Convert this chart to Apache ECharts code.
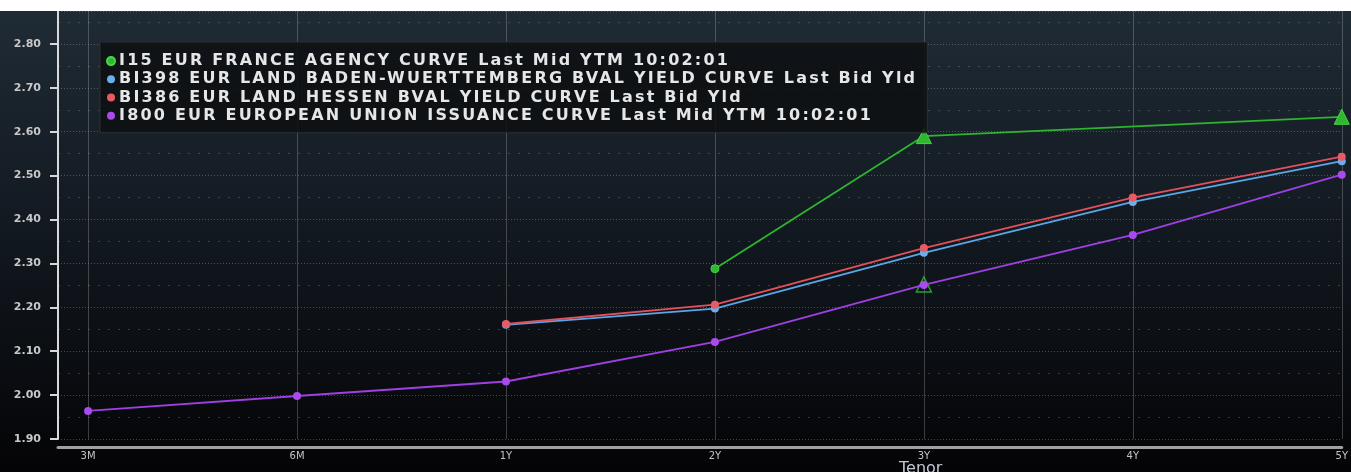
<!DOCTYPE html>
<html>
<head>
<meta charset="utf-8">
<script src="https://cdn.jsdelivr.net/npm/echarts@6/dist/echarts.min.js"></script>
<style>
html,body{margin:0;padding:0;background:#000;}
#chart{width:1351px;height:472px;}
</style>
</head>
<body>
<div id="chart"></div>
<script>
// ---- data ----
const tenors = ['3M', '6M', '1Y', '2Y', '3Y', '4Y', '5Y'];
const nameI15 = 'I15 EUR FRANCE AGENCY CURVE Last Mid YTM 10:02:01';
const nameBI398 = 'BI398 EUR LAND BADEN-WUERTTEMBERG BVAL YIELD CURVE Last Bid Yld';
const nameBI386 = 'BI386 EUR LAND HESSEN BVAL YIELD CURVE Last Bid Yld';
const nameI800 = 'I800 EUR EUROPEAN UNION ISSUANCE CURVE Last Mid YTM 10:02:01';
const valsI15   = [null, null, null, 2.288, 2.590, null, 2.634];
const valsBI398 = [null, null, 2.160, 2.197, 2.324, 2.440, 2.533];
const valsBI386 = [null, null, 2.162, 2.206, 2.335, 2.450, 2.543];
const valsI800  = [1.964, 1.998, 2.031, 2.121, 2.251, 2.365, 2.502];
const valsI15Extra = [null, null, null, null, 2.252, null, null];

function pairs(vals) {
  const out = [];
  vals.forEach((v, i) => { if (v !== null) out.push([i, v]); });
  return out;
}

// wide tracking for the legend font (Bloomberg-style spaced lettering)
(function () {
  const P = CanvasRenderingContext2D.prototype;
  const setLS = ctx => {
    if ('letterSpacing' in ctx) {
      ctx.letterSpacing = (/bold/.test(ctx.font) && /16px/.test(ctx.font)) ? '2.2px' : '0px';
    }
  };
  const mt = P.measureText, ft = P.fillText, st = P.strokeText;
  P.measureText = function (t) { setLS(this); return mt.call(this, t); };
  P.fillText = function () { setLS(this); return ft.apply(this, arguments); };
  P.strokeText = function () { setLS(this); return st.apply(this, arguments); };
})();

const chart = echarts.init(document.getElementById('chart'), null, {renderer: 'canvas'});
const font = 'DejaVu Sans';
const tickIdx = tenors.map((t, i) => i);

const option = {
  animation: false,
  backgroundColor: {
    type: 'linear', x: 0, y: 0, x2: 0, y2: 1,
    colorStops: [
      {offset: 0, color: '#202c36'},
      {offset: 0.45, color: '#131a22'},
      {offset: 1, color: '#040406'}
    ]
  },
  graphic: [
    {type: 'rect', left: 0, top: 0, shape: {width: 1351, height: 11}, style: {fill: '#ffffff'}, z: 100},
    {type: 'text', left: 899, top: 461, style: {text: 'Tenor', fill: '#c0c8d2', font: '16px "DejaVu Sans"'}, z: 100}
  ],
  grid: {left: 58, right: 9, top: 11, bottom: 33, containLabel: false},
  legend: {
    orient: 'vertical',
    left: 100, top: 42,
    backgroundColor: 'rgba(14,16,18,0.88)',
    borderColor: '#2c3033', borderWidth: 1,
    padding: [10, 10, 8, 6],
    itemGap: 0,
    itemWidth: 8, itemHeight: 8,
    icon: 'circle',
    textStyle: {color: '#e6e6e6', fontSize: 16, lineHeight: 18, fontFamily: font, fontWeight: 'bold', padding: [0,0,0,-1]},
    data: [nameI15, nameBI398, nameBI386, nameI800]
  },
  xAxis: {
    type: 'value',
    min: -0.144, max: 6,
    offset: 8,
    axisLine: {show: true, onZero: false, lineStyle: {color: '#a0a0a0', width: 3}},
    axisTick: {show: false, customValues: tickIdx},
    axisLabel: {
      customValues: tickIdx,
      color: '#c4c4c4', fontSize: 10, fontFamily: font, margin: 4,
      formatter: v => tenors[Math.round(v)] || ''
    },
    splitLine: {show: true, lineStyle: {color: 'rgba(200,200,200,0.28)', width: 1}}
  },
  yAxis: {
    type: 'value',
    min: 1.9, max: 2.875, interval: 0.1,
    axisLine: {show: true, onZero: false, lineStyle: {color: '#d8d8d8', width: 2}},
    axisTick: {show: true, length: 8, lineStyle: {color: '#d8d8d8', width: 2}},
    axisLabel: {
      color: '#c8c8c8', fontSize: 11, fontFamily: font, fontWeight: 'bold', margin: 17,
      showMaxLabel: false,
      formatter: v => (Math.abs(v * 10 - Math.round(v * 10)) < 1e-6 ? v.toFixed(2) : '')
    },
    splitLine: {show: true, lineStyle: {color: 'rgba(190,190,190,0.35)', width: 1, type: [1, 2]}},
    minorTick: {show: false, splitNumber: 2},
    minorSplitLine: {show: true, lineStyle: {color: 'rgba(190,190,190,0.25)', width: 1, type: [2, 8]}}
  },
  series: [
    {
      name: 'I15 extra', type: 'scatter', data: pairs(valsI15Extra),
      symbol: 'triangle', symbolSize: 15, z: 1,
      itemStyle: {color: 'rgba(0,0,0,0)', borderColor: '#2fbf2f', borderWidth: 1.5},
      legendHoverLink: false
    },
    {
      name: nameI15, type: 'line', data: pairs(valsI15), connectNulls: true,
      color: '#2db52d', z: 3,
      lineStyle: {width: 1.8, color: '#2db52d'},
      symbol: (v, p) => (p.dataIndex === 0 ? 'circle' : 'triangle'),
      symbolSize: (v, p) => (p.dataIndex === 0 ? 8 : 15),
      showAllSymbol: true,
      itemStyle: {color: '#2fb82f', borderColor: '#45d845', borderWidth: 1}
    },
    {
      name: nameBI398, type: 'line', data: pairs(valsBI398),
      color: '#5aa6e6', z: 4,
      lineStyle: {width: 1.8, color: '#5aa6e6'},
      symbol: 'circle', symbolSize: 8, showAllSymbol: true,
      itemStyle: {color: '#6aaeea'}
    },
    {
      name: nameBI386, type: 'line', data: pairs(valsBI386),
      color: '#e2505c', z: 5,
      lineStyle: {width: 1.8, color: '#e2505c'},
      symbol: 'circle', symbolSize: 8, showAllSymbol: true,
      itemStyle: {color: '#e85a64'}
    },
    {
      name: nameI800, type: 'line', data: pairs(valsI800),
      color: '#9e40e2', z: 6,
      lineStyle: {width: 1.8, color: '#9e40e2'},
      symbol: 'circle', symbolSize: 8, showAllSymbol: true,
      itemStyle: {color: '#a84aee'}
    }
  ]
};
chart.setOption(option);
</script>
</body>
</html>
